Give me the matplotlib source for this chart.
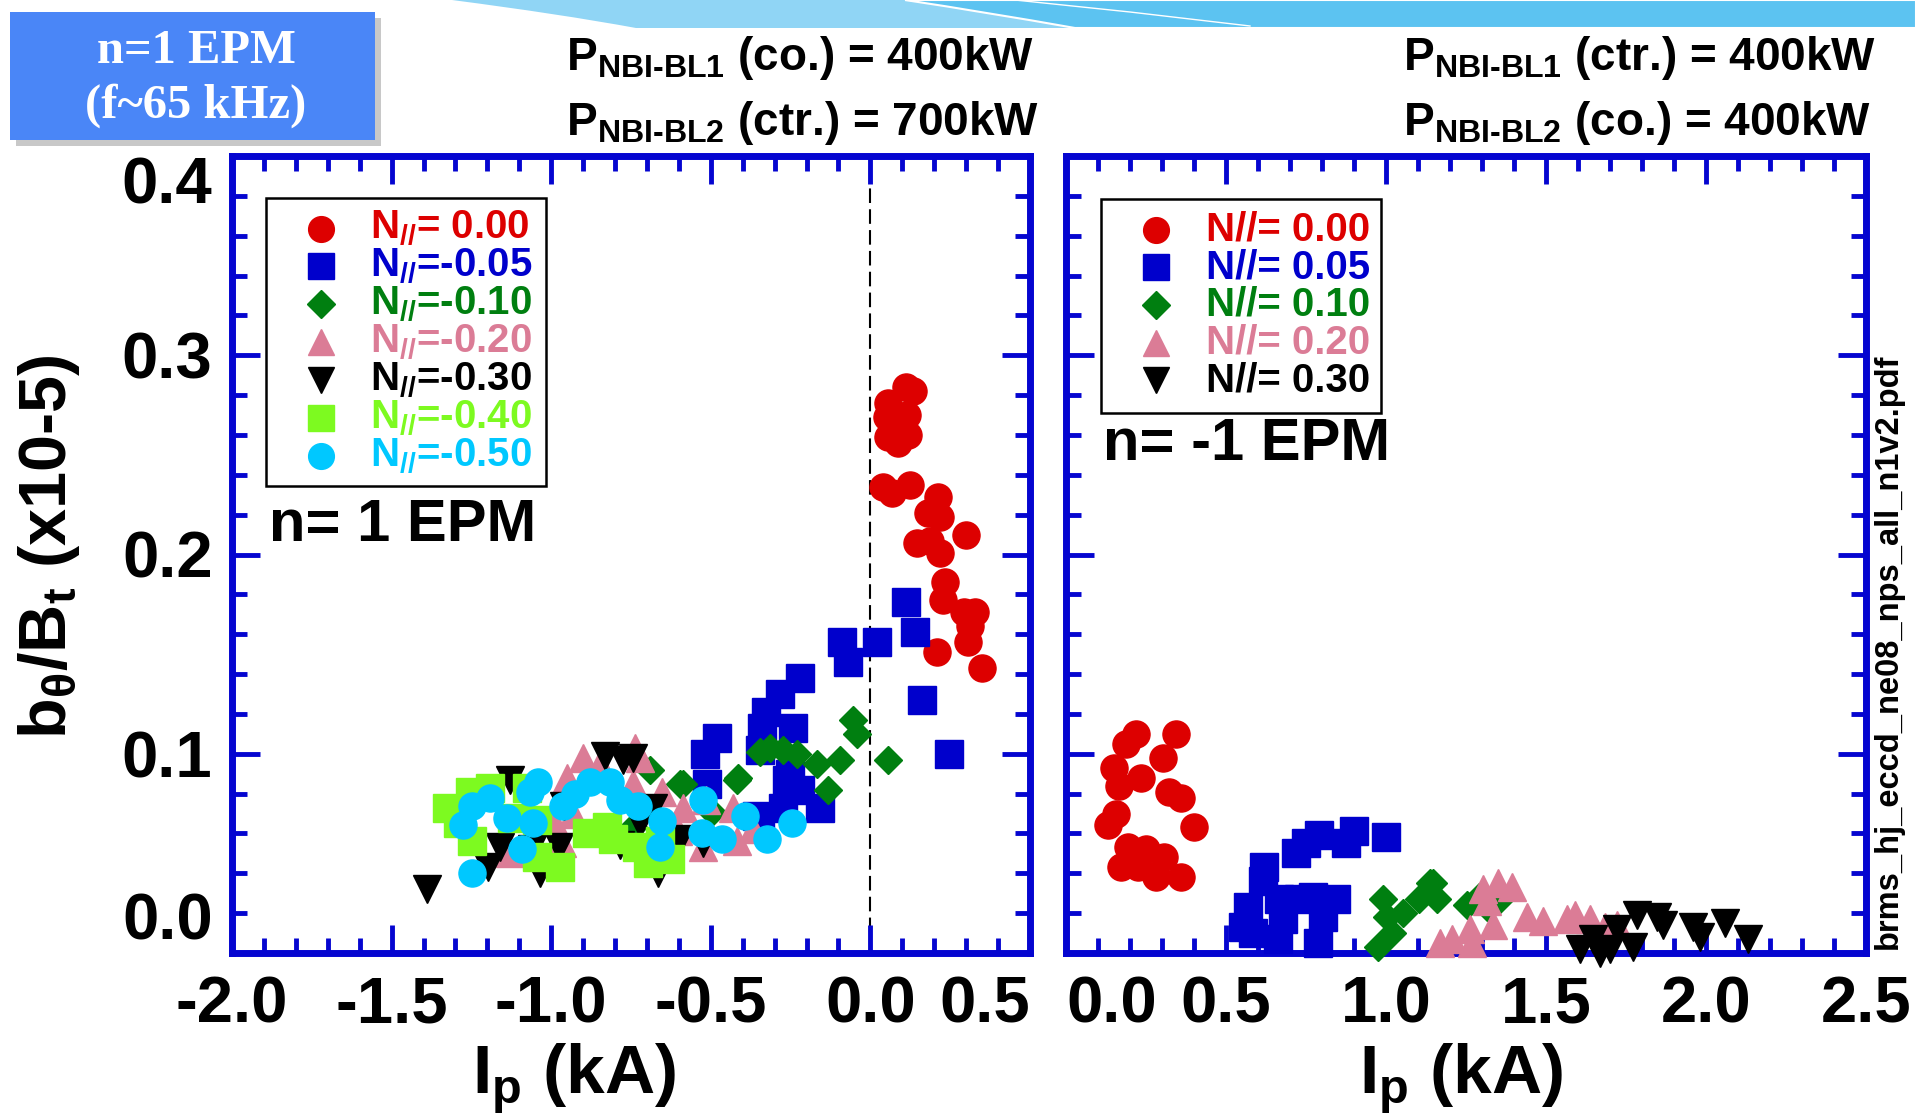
import matplotlib
matplotlib.use("Agg")
import matplotlib.pyplot as plt
from matplotlib.lines import Line2D
from matplotlib.patches import Rectangle, PathPatch
from matplotlib.path import Path
from matplotlib.ticker import MultipleLocator

plt.rcParams['font.family'] = ['Liberation Sans', 'DejaVu Sans']
plt.rcParams['font.weight'] = 'bold'
plt.rcParams['mathtext.fontset'] = 'custom'
plt.rcParams['mathtext.rm'] = 'Liberation Sans:bold'
plt.rcParams['mathtext.it'] = 'Liberation Sans:italic:bold'
plt.rcParams['mathtext.bf'] = 'Liberation Sans:bold'
plt.rcParams['mathtext.sf'] = 'Liberation Sans:bold'
plt.rcParams['mathtext.default'] = 'rm'

# ---- data: left panel (co-ECCD scan, n=1 EPM) ----
L_N000_X = [0.110, 0.132, 0.056, 0.116, 0.053, 0.119, 0.056, 0.085, 0.041, 0.069, 0.125, 0.213, 0.182,
            0.219, 0.298, 0.147, 0.188, 0.219, 0.235, 0.229, 0.292, 0.329, 0.313, 0.307, 0.210, 0.351]
L_N000_Y = [0.284, 0.282, 0.276, 0.270, 0.269, 0.260, 0.259, 0.256, 0.234, 0.231, 0.235, 0.229, 0.221,
            0.219, 0.210, 0.206, 0.207, 0.201, 0.186, 0.177, 0.171, 0.171, 0.164, 0.156, 0.151, 0.143]
L_N005_X = [0.110, 0.141, -0.088, 0.022, -0.069, -0.219, -0.282, 0.163, -0.339, -0.241, -0.480, -0.517,
            -0.345, 0.245, -0.251, -0.511, -0.260, -0.219, -0.273, -0.157, -0.354, -0.345, -0.326]
L_N005_Y = [0.176, 0.161, 0.156, 0.156, 0.146, 0.138, 0.130, 0.127, 0.113, 0.113, 0.108, 0.100,
            0.102, 0.100, 0.090, 0.085, 0.087, 0.082, 0.073, 0.073, 0.069, 0.068, 0.121]
L_N010_X = [-0.056, -0.041, -0.345, -0.313, -0.273, -0.229, -0.166, -0.094, 0.056, -0.414, -0.132,
            -0.495, -0.586, -0.690, -0.596, -0.743, -0.417]
L_N010_Y = [0.117, 0.110, 0.101, 0.103, 0.102, 0.100, 0.095, 0.097, 0.097, 0.088, 0.082,
            0.071, 0.085, 0.092, 0.085, 0.063, 0.087]
L_N020_X = [-0.900, -0.950, -0.846, -0.737, -0.721, -0.743, -0.652, -0.586, -0.524, -0.417, -0.367,
            -0.994, -1.129, -0.931, -0.806, -0.514, -0.602, -0.429, -0.966]
L_N020_Y = [0.098, 0.088, 0.095, 0.103, 0.098, 0.085, 0.081, 0.073, 0.053, 0.056, 0.062,
            0.067, 0.050, 0.070, 0.063, 0.077, 0.061, 0.073, 0.055]
L_N030_X = [-1.389, -1.197, -1.160, -0.831, -0.743, -0.960, -0.784, -0.665, -0.596, -0.975, -1.060,
            -0.721, -0.680, -1.129, -1.034, -0.524, -0.774]
L_N030_Y = [0.032, 0.043, 0.053, 0.099, 0.098, 0.074, 0.054, 0.040, 0.057, 0.053, 0.052,
            0.065, 0.073, 0.087, 0.040, 0.055, 0.097]
L_N040_X = [-1.326, -1.292, -1.248, -1.254, -1.191, -1.075, -1.044, -1.044, -0.972, -0.887, -0.824,
            -0.806, -0.730, -0.627, -1.122, -0.658, -0.696]
L_N040_Y = [0.073, 0.065, 0.056, 0.081, 0.083, 0.083, 0.067, 0.048, 0.043, 0.060, 0.063,
            0.057, 0.053, 0.047, 0.068, 0.056, 0.045]
L_N050_X = [-1.276, -1.248, -1.191, -1.248, -1.138, -1.091, -1.066, -1.041, -1.056, -0.962, -0.925,
            -0.878, -0.815, -0.784, -0.727, -0.652, -0.658, -0.524, -0.527, -0.464, -0.392, -0.323, -0.245]
L_N050_Y = [0.064, 0.074, 0.078, 0.040, 0.068, 0.052, 0.081, 0.086, 0.065, 0.074, 0.080,
            0.086, 0.086, 0.077, 0.074, 0.066, 0.053, 0.077, 0.060, 0.057, 0.069, 0.057, 0.065]

# ---- data: right panel (ctr-ECCD scan, n=-1 EPM) ----
R_N000_X = [0.219, 0.188, 0.344, 0.303, 0.150, 0.166, 0.234, 0.322, 0.359, 0.156, 0.131, 0.400,
            0.194, 0.250, 0.306, 0.172, 0.225, 0.281, 0.359]
R_N000_Y = [0.110, 0.105, 0.110, 0.098, 0.093, 0.084, 0.088, 0.081, 0.078, 0.070, 0.064, 0.063,
            0.053, 0.052, 0.048, 0.043, 0.043, 0.038, 0.038]
R_N005_X = [1.000, 0.900, 0.875, 0.791, 0.750, 0.719, 0.619, 0.569, 0.666, 0.678, 0.772, 0.803,
            0.844, 0.663, 0.788, 0.553, 0.616, 0.728, 0.584]
R_N005_Y = [0.058, 0.061, 0.055, 0.059, 0.055, 0.050, 0.043, 0.023, 0.027, 0.017, 0.028, 0.018,
            0.027, 0.007, 0.005, 0.013, 0.036, 0.027, 0.010]
R_N010_X = [0.975, 0.991, 1.053, 1.103, 1.147, 1.003, 1.138, 1.159, 1.253, 1.316, 1.356, 1.291, 1.020]
R_N010_Y = [0.003, 0.027, 0.020, 0.027, 0.035, 0.018, 0.035, 0.027, 0.024, 0.023, 0.027, 0.028, 0.010]
R_N020_X = [1.303, 1.350, 1.394, 1.316, 1.334, 1.263, 1.269, 1.169, 1.206, 1.441, 1.491, 1.566,
            1.591, 1.638, 1.684, 1.722]
R_N020_Y = [0.032, 0.035, 0.033, 0.026, 0.014, 0.012, 0.005, 0.005, 0.007, 0.018, 0.016, 0.017,
            0.019, 0.017, 0.013, 0.014]
R_N030_X = [1.606, 1.669, 1.700, 1.647, 1.722, 1.784, 1.772, 1.847, 1.866, 1.959, 1.981, 2.059, 2.131]
R_N030_Y = [0.002, 0.000, 0.002, 0.007, 0.012, 0.019, 0.003, 0.018, 0.014, 0.013, 0.008, 0.015, 0.007]

LEFT_LABELS = [r'N$_{//}$= 0.00', r'N$_{//}$=-0.05', r'N$_{//}$=-0.10', r'N$_{//}$=-0.20',
               r'N$_{//}$=-0.30', r'N$_{//}$=-0.40', r'N$_{//}$=-0.50']
RIGHT_LABELS = ['N//= 0.00', 'N//= 0.05', 'N//= 0.10', 'N//= 0.20', 'N//= 0.30']
COLORS = ['#DD0000', '#0000CC', '#007F10', '#DB7C96', '#000000', '#7DFA20', '#00C8FF']
MARKERS = ['o', 's', 'D', '^', 'v', 's', 'o']
MSIZES = [19.5, 19.5, 14.5, 20, 20, 19.5, 19.5]

LEFT_X_TICKS = [-2.0, -1.5, -1.0, -0.5, 0.0, 0.5]
RIGHT_X_TICKS = [0.0, 0.5, 1.0, 1.5, 2.0, 2.5]
Y_TICKS = [0.0, 0.1, 0.2, 0.3, 0.4]

AXIS_BLUE = '#0505D0'
W, H = 1916, 1117


def fx(px):
    return px / W


def fy(py):
    return 1 - py / H


fig = plt.figure(figsize=(W / 100, H / 100), dpi=100)

# slide decoration: banner across the top
light = Path([(fx(452), fy(0)), (fx(1916), fy(0)), (fx(1916), fy(28)), (fx(636), fy(28)),
              (fx(560), fy(14)), (fx(452), fy(0))],
             [Path.MOVETO, Path.LINETO, Path.LINETO, Path.LINETO, Path.CURVE3, Path.CURVE3])
fig.add_artist(PathPatch(light, transform=fig.transFigure, fc='#90D5F5', ec='none'))
dark = Path([(fx(905), fy(0)), (fx(1916), fy(0)), (fx(1916), fy(28)), (fx(1075), fy(28)),
             (fx(985), fy(12)), (fx(905), fy(0))],
            [Path.MOVETO, Path.LINETO, Path.LINETO, Path.LINETO, Path.CURVE3, Path.CURVE3])
fig.add_artist(PathPatch(dark, transform=fig.transFigure, fc='#5CC3F1', ec='white', lw=1.5))
fig.add_artist(Line2D([fx(1015), fx(1130), fx(1250)], [fy(0), fy(12), fy(26)],
                      transform=fig.transFigure, color='white', lw=1))

# title box
fig.add_artist(Rectangle((fx(16), fy(146)), 365 / W, 128 / H, transform=fig.transFigure,
                         fc='#C8C8C8', ec='none'))
fig.add_artist(Rectangle((fx(10), fy(140)), 365 / W, 128 / H, transform=fig.transFigure,
                         fc='#4A86F7', ec='none'))
fig.text(fx(196), fy(51), 'n=1 EPM', color='white', fontsize=35, family='Liberation Serif',
         weight='bold', ha='center', va='center')
fig.text(fx(196), fy(106), '(f~65 kHz)', color='white', fontsize=35, family='Liberation Serif',
         weight='bold', ha='center', va='center')

# beam power annotations
fig.text(fx(566), fy(70), r'P$_{\text{NBI-BL1}}$ (co.) = 400kW', fontsize=33, va='baseline')
fig.text(fx(566), fy(135), r'P$_{\text{NBI-BL2}}$ (ctr.) = 700kW', fontsize=33, va='baseline')
fig.text(fx(1403), fy(70), r'P$_{\text{NBI-BL1}}$ (ctr.) = 400kW', fontsize=33, va='baseline')
fig.text(fx(1403), fy(135), r'P$_{\text{NBI-BL2}}$ (co.) = 400kW', fontsize=33, va='baseline')

axL = fig.add_axes([fx(232), fy(953), (1030 - 232) / W, (953 - 156) / H])
axR = fig.add_axes([fx(1066), fy(953), (1866 - 1066) / W, (953 - 156) / H])

for ax in (axL, axR):
    for s in ax.spines.values():
        s.set_color(AXIS_BLUE)
        s.set_linewidth(5)
    ax.tick_params(which='both', direction='in', colors=AXIS_BLUE, labelcolor='black',
                   top=True, right=True, labelsize=47)
    ax.tick_params(which='major', length=20, width=3.5)
    ax.tick_params(which='minor', length=11, width=3.5)
    ax.tick_params(axis='x', pad=16)
    ax.tick_params(axis='y', pad=14)
    ax.xaxis.set_minor_locator(MultipleLocator(0.1))
    ax.yaxis.set_minor_locator(MultipleLocator(0.02))
    ax.set_ylim(0, 0.4)

axL.set_xlim(-2.0, 0.5)
axR.set_xlim(0.0, 2.5)
axL.set_xticks(LEFT_X_TICKS, [f'{v:.1f}' for v in LEFT_X_TICKS])
axR.set_xticks(RIGHT_X_TICKS, [f'{v:.1f}' for v in RIGHT_X_TICKS])
axL.set_yticks(Y_TICKS, [f'{v:.1f}' for v in Y_TICKS])
axR.set_yticks(Y_TICKS)
axR.tick_params(labelleft=False)
axL.get_xticklabels()[-1].set_ha('right')
axR.get_xticklabels()[0].set_ha('left')
axL.get_yticklabels()[0].set_va('bottom')
axL.get_yticklabels()[-1].set_va('top')

axL.axvline(0.0, color='black', lw=1.5, ls=(0, (7, 3)), zorder=1)

left_series = [(L_N000_X, L_N000_Y), (L_N005_X, L_N005_Y), (L_N010_X, L_N010_Y), (L_N020_X, L_N020_Y),
               (L_N030_X, L_N030_Y), (L_N040_X, L_N040_Y), (L_N050_X, L_N050_Y)]
right_series = [(R_N000_X, R_N000_Y), (R_N005_X, R_N005_Y), (R_N010_X, R_N010_Y), (R_N020_X, R_N020_Y),
                (R_N030_X, R_N030_Y)]

for ax, series in ((axL, left_series), (axR, right_series)):
    for i, (xs, ys) in enumerate(series):
        ax.plot(xs, ys, ls='none', marker=MARKERS[i], ms=MSIZES[i], color=COLORS[i],
                mec=COLORS[i], mew=1, clip_on=False, zorder=3 + i)


def draw_legend(box, mx, tx, y0, dy, labels):
    x0, ya, x1, yb = box
    fig.add_artist(Rectangle((fx(x0), fy(yb)), (x1 - x0) / W, (yb - ya) / H,
                             transform=fig.transFigure, fc='none', ec='black', lw=1.8))
    for i, lab in enumerate(labels):
        y = y0 + i * dy
        fig.add_artist(Line2D([fx(mx)], [fy(y)], transform=fig.transFigure, ls='none',
                              marker=MARKERS[i], ms=MSIZES[i] * 0.95, color=COLORS[i]))
        fig.text(fx(tx), fy(y), lab, color=COLORS[i], fontsize=29, va='center', ha='left')


draw_legend((266, 198, 546, 486), 321, 370, 228.5, 37.9, LEFT_LABELS)
draw_legend((1101, 199, 1381, 413), 1156, 1206, 229.7, 37.6, RIGHT_LABELS)

fig.text(fx(269), fy(525), 'n= 1 EPM', fontsize=43, va='center', ha='left')
fig.text(fx(1103), fy(444), 'n= -1 EPM', fontsize=43, va='center', ha='left')

fig.text(fx(574), fy(1093), r'I$_\mathrm{p}$ (kA)', fontsize=50, ha='center', va='baseline')
fig.text(fx(1461), fy(1093), r'I$_\mathrm{p}$ (kA)', fontsize=50, ha='center', va='baseline')
fig.text(fx(49), fy(547), r'b$_\theta$/B$_\mathrm{t}$ (x10-5)', fontsize=48, rotation=90,
         ha='center', va='center')

fig.text(fx(1888), fy(651), 'brms_hj_eccd_ne08_nps_all_n1v2.pdf', fontsize=23.5, rotation=90,
         ha='center', va='center')

fig.savefig('out.png', dpi=100, facecolor='white')
